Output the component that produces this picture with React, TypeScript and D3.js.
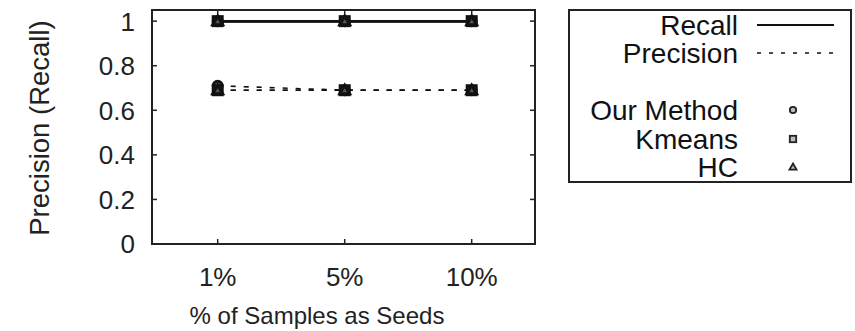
import React, { useEffect, useRef } from "react";
import * as d3 from "d3";

const seeds = ["1%", "5%", "10%"];
const yTicks = [0, 0.2, 0.4, 0.6, 0.8, 1];
const methods = ["Our Method", "Kmeans", "HC"];
const recallOurs = [1, 1, 1];
const recallKmeans = [1, 1, 1];
const recallHC = [1, 1, 1];
const precisionOurs = [0.71, 0.69, 0.69];
const precisionKmeans = [0.69, 0.69, 0.69];
const precisionHC = [0.69, 0.69, 0.69];

const FONT = "'Liberation Sans', Arial, Helvetica, sans-serif";
const FS = "26px";

function drawMarker(g: any, kind: string, x: number, y: number, r: number) {
  if (kind === "Our Method") {
    g.append("circle").attr("cx", x).attr("cy", y).attr("r", r);
  } else if (kind === "Kmeans") {
    g.append("rect").attr("x", x - r).attr("y", y - r).attr("width", 2 * r).attr("height", 2 * r);
  } else {
    g.append("path").attr(
      "d",
      `M${x},${y - r * 1.1} L${x + r * 1.1},${y + r * 0.8} L${x - r * 1.1},${y + r * 0.8} Z`
    );
  }
}

function MakeSvg(ref: React.MutableRefObject<SVGSVGElement | null>) {
  const svg = d3.select(ref.current);
  svg.selectAll("*").remove();

  const left = 152, right = 535, top = 10, bottom = 244;
  const x = d3.scalePoint<string>().domain(seeds).range([217.7, 471.7]);
  const y = d3.scaleLinear().domain([0, 1.05]).range([bottom, top]);

  // frame
  svg.append("rect")
    .attr("x", left).attr("y", top)
    .attr("width", right - left).attr("height", bottom - top)
    .attr("fill", "none").attr("stroke", "#222").attr("stroke-width", 2);

  // ticks (inward, mirrored)
  const tl = 5;
  yTicks.forEach((t) => {
    svg.append("line").attr("x1", left).attr("x2", left + tl).attr("y1", y(t)).attr("y2", y(t))
      .attr("stroke", "#222").attr("stroke-width", 1.5);
    svg.append("line").attr("x1", right).attr("x2", right - tl).attr("y1", y(t)).attr("y2", y(t))
      .attr("stroke", "#222").attr("stroke-width", 1.5);
    svg.append("text").attr("x", 135).attr("y", y(t)).attr("dy", "0.36em")
      .attr("text-anchor", "end").style("font-family", FONT).style("font-size", FS)
      .attr("fill", "#222").text(d3.format("~g")(t));
  });
  seeds.forEach((s) => {
    const xx = x(s) as number;
    svg.append("line").attr("x1", xx).attr("x2", xx).attr("y1", bottom).attr("y2", bottom - tl)
      .attr("stroke", "#222").attr("stroke-width", 1.5);
    svg.append("line").attr("x1", xx).attr("x2", xx).attr("y1", top).attr("y2", top + tl)
      .attr("stroke", "#222").attr("stroke-width", 1.5);
    svg.append("text").attr("x", xx).attr("y", 277).attr("dy", "0.36em")
      .attr("text-anchor", "middle").style("font-family", FONT).style("font-size", FS)
      .attr("fill", "#222").text(s);
  });

  // axis titles
  svg.append("text").attr("x", 317).attr("y", 315).attr("dy", "0.36em")
    .attr("text-anchor", "middle").style("font-family", FONT).style("font-size", "24px")
    .attr("fill", "#222").text("% of Samples as Seeds");
  svg.append("text").attr("transform", "translate(39,128) rotate(-90)").attr("dy", "0.36em")
    .attr("text-anchor", "middle").style("font-family", FONT).style("font-size", "27.5px")
    .attr("fill", "#222").text("Precision (Recall)");

  const line = d3.line<number>().x((_, i) => x(seeds[i]) as number).y((d) => y(d));
  const recall = [recallOurs, recallKmeans, recallHC];
  const precision = [precisionOurs, precisionKmeans, precisionHC];

  methods.forEach((m, k) => {
    svg.append("path").datum(recall[k]).attr("d", line).attr("fill", "none")
      .attr("stroke", "#111").attr("stroke-width", 2.5);
    svg.append("path").datum(precision[k]).attr("d", line).attr("fill", "none")
      .attr("stroke", "#111").attr("stroke-width", 1.6).attr("stroke-dasharray", "5,8");
  });

  const mg = svg.append("g").attr("fill", "#555").attr("stroke", "#111").attr("stroke-width", 3);
  methods.forEach((m, k) => {
    recall[k].forEach((v, i) => drawMarker(mg, m, x(seeds[i]) as number, y(v), 4.5));
    precision[k].forEach((v, i) => drawMarker(mg, m, x(seeds[i]) as number, y(v), 4.5));
  });

  // legend
  const lg = svg.append("g");
  lg.append("rect").attr("x", 569).attr("y", 10).attr("width", 282).attr("height", 172)
    .attr("fill", "none").attr("stroke", "#222").attr("stroke-width", 2);
  const labelX = 738;
  const rows: { label: string; y: number }[] = [
    { label: "Recall", y: 25 },
    { label: "Precision", y: 53 },
    { label: methods[0], y: 110 },
    { label: methods[1], y: 139 },
    { label: methods[2], y: 167 },
  ];
  rows.forEach((r) => {
    lg.append("text").attr("x", labelX).attr("y", r.y).attr("dy", "0.36em")
      .attr("text-anchor", "end").style("font-family", FONT).style("font-size", "28px")
      .attr("fill", "#111").text(r.label);
  });
  lg.append("line").attr("x1", 757).attr("x2", 834).attr("y1", 25).attr("y2", 25)
    .attr("stroke", "#111").attr("stroke-width", 1.8);
  lg.append("line").attr("x1", 757).attr("x2", 834).attr("y1", 53).attr("y2", 53)
    .attr("stroke", "#111").attr("stroke-width", 1.4).attr("stroke-dasharray", "4,8");
  const lm = lg.append("g").attr("fill", "#bbb").attr("stroke", "#222").attr("stroke-width", 1.8);
  methods.forEach((m, k) => drawMarker(lm, m, 793, rows[k + 2].y, 3.2));
}

const App = () => {
  const ref = useRef<SVGSVGElement | null>(null);
  useEffect(() => {
    MakeSvg(ref);
  }, []);
  return (
    <svg
      ref={ref}
      width={855}
      height={331}
      style={{ position: "absolute", left: 0, top: 0, background: "#fff" }}
    />
  );
};

export default App;
